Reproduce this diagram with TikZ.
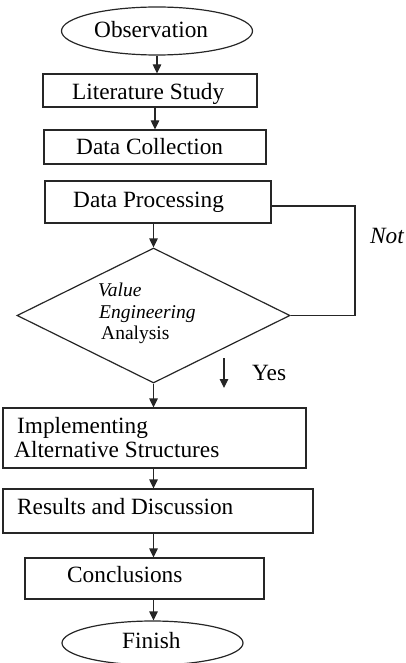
\documentclass[tikz,border=0pt]{standalone}
\usepackage{fontspec}
\setmainfont{Liberation Serif}
\usetikzlibrary{shapes.geometric,arrows.meta}
\begin{document}
\begin{tikzpicture}[x=1pt,y=-1pt,
  line/.style={draw=black!85, line width=1.2pt},
  arr/.style={line, -{Triangle[length=9pt,width=8.5pt]}},
  box/.style={line, rectangle, inner sep=0pt},
  term/.style={line, ellipse, inner sep=0pt},
  lbl/.style={anchor=base west, inner sep=0pt, font=\fontsize{23.3}{26}\selectfont},
  dlbl/.style={anchor=base west, inner sep=0pt, font=\fontsize{19.5}{21}\selectfont},
]
\useasboundingbox (0,0) rectangle (406,663);

% process steps
\node[term, minimum width=191pt, minimum height=48pt] (obs) at (157,31) {};
\node[lbl] (obsT) at (94,38) {Observation};
\node[box, minimum width=214pt, minimum height=33pt] (lit) at (150,90.5) {};
\node[lbl] (litT) at (72,100) {Literature Study};
\node[box, minimum width=222pt, minimum height=34pt] (dc) at (155,147) {};
\node[lbl] (dcT) at (76,155) {Data Collection};
\node[box, minimum width=226pt, minimum height=42pt] (dp) at (158,202) {};
\node[lbl] (dpT) at (73,207) {Data Processing};

% decision
\node[line, diamond, minimum width=273pt, minimum height=135pt, inner sep=0pt] (vea) at (153.5,315.5) {};
\node[dlbl] (vea1) at (98,296) {\itshape Value};
\node[dlbl] (vea2) at (99,318) {\itshape Engineering};
\node[dlbl] (vea3) at (101,339) {Analysis};

\node[box, minimum width=303pt, minimum height=60pt] (impl) at (154.5,438) {};
\node[lbl] (implT1) at (17,433) {Implementing};
\node[lbl] (implT2) at (14,457) {Alternative Structures};
\node[box, minimum width=310pt, minimum height=44pt] (res) at (158,511) {};
\node[lbl] (resT) at (17,514) {Results and Discussion};
\node[box, minimum width=239pt, minimum height=41pt] (conc) at (144.5,578.5) {};
\node[lbl] (concT) at (67,582) {Conclusions};
\node[term, minimum width=181pt, minimum height=44pt] (fin) at (152.5,643) {};
\node[lbl] (finT) at (122,648) {Finish};

% branch labels
\node[lbl] (no) at (370,243) {\itshape Not};
\node[lbl] (yes) at (252,380) {Yes};

% connectors
\draw[arr] (obs.south) -- (obs.south |- lit.north);
\draw[arr] (dc.north |- lit.south) -- (dc.north);
\draw[arr] (vea.north |- dp.south) -- (vea.north);
\coordinate (loopA) at (355,206);
\draw[line] (loopA -| dp.east) -- (loopA) |- (vea.east);
\draw[arr] (vea.south) -- (vea.south |- impl.north);
\coordinate (yesA) at (224,358);
\coordinate (yesB) at (224,388);
\draw[arr] (yesA) -- (yesB);
\draw[arr] (impl.south -| vea.south) -- (res.north -| vea.south);
\draw[arr] (res.south -| vea.south) -- (conc.north -| vea.south);
\draw[arr] (conc.south -| vea.south) -- (fin.north -| vea.south);
\end{tikzpicture}
\end{document}
